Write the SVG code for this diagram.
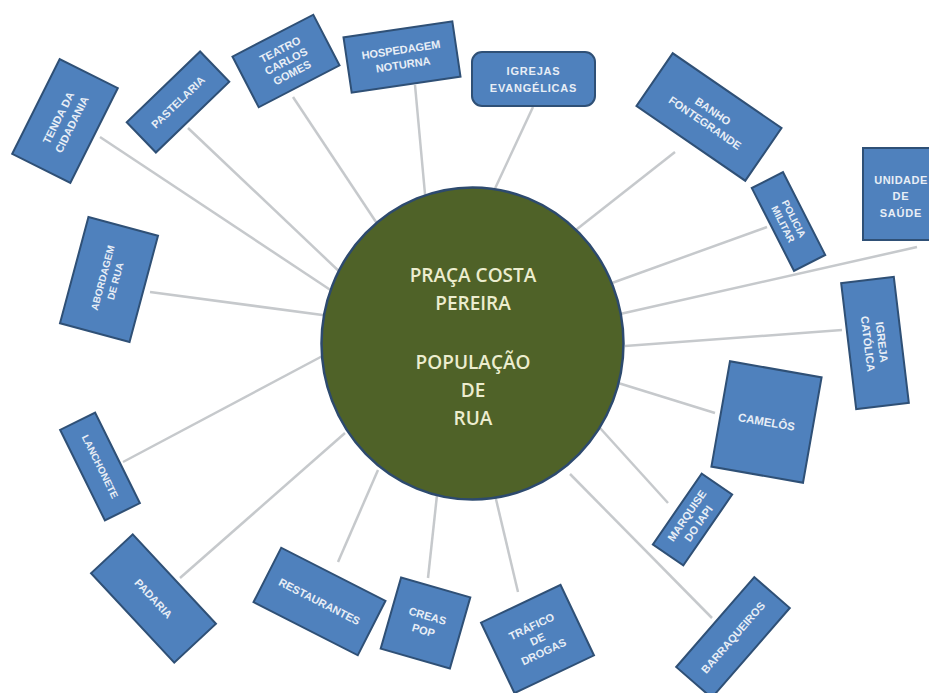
<svg xmlns="http://www.w3.org/2000/svg" width="929" height="693" viewBox="0 0 929 693">
<style>
.box{fill:#4f81bd;stroke:#2f5076;stroke-width:2}
.t{font-family:"Liberation Sans",Arial,sans-serif;font-size:11px;font-weight:bold;fill:#e8eef6;text-anchor:middle;dominant-baseline:central}
.s{font-size:10px}
.c{font-family:"Open Sans","Liberation Sans",sans-serif;font-size:19px;font-weight:600;fill:#ecedcf;text-anchor:middle}
#connectors line{stroke:#c6c9cc;stroke-width:2.5}
</style>
<rect width="929" height="693" fill="#ffffff"/>
<g id="connectors">
<line x1="100" y1="137" x2="335" y2="293"/>
<line x1="188" y1="128" x2="343" y2="275"/>
<line x1="293" y1="97" x2="380" y2="228"/>
<line x1="415" y1="85" x2="426" y2="205"/>
<line x1="533" y1="107" x2="492" y2="195"/>
<line x1="675" y1="152" x2="572" y2="233"/>
<line x1="767" y1="227" x2="612" y2="283"/>
<line x1="917" y1="247" x2="620" y2="314"/>
<line x1="842" y1="330" x2="625" y2="346"/>
<line x1="715" y1="413" x2="615" y2="382"/>
<line x1="668" y1="503" x2="600" y2="428"/>
<line x1="712" y1="618" x2="570" y2="474"/>
<line x1="518" y1="592" x2="495" y2="495"/>
<line x1="428" y1="578" x2="437" y2="495"/>
<line x1="338" y1="562" x2="378" y2="470"/>
<line x1="180" y1="578" x2="345" y2="433"/>
<line x1="123" y1="462" x2="330" y2="352"/>
<line x1="150" y1="292" x2="330" y2="316"/>
</g>
<g id="center">
<ellipse cx="472.5" cy="343.5" rx="151" ry="156" fill="#4f6228" stroke="#2d4a6e" stroke-width="2.5"/>
<text class="c" x="473" y="282">PRAÇA COSTA</text>
<text class="c" x="473" y="310">PEREIRA</text>
<text class="c" x="473" y="369">POPULAÇÃO</text>
<text class="c" x="473" y="397">DE</text>
<text class="c" x="473" y="425">RUA</text>
</g>
<g id="tenda" transform="translate(65,121) rotate(-63.4)">
<rect class="box" x="-53" y="-32.5" width="106" height="65"/>
<text class="t" y="-7.5">TENDA DA</text><text class="t" y="7.5">CIDADANIA</text>
</g>
<g id="pastelaria" transform="translate(178,102) rotate(-44)">
<rect class="box" x="-51" y="-21" width="102" height="42"/>
<text class="t">PASTELARIA</text>
</g>
<g id="teatro" transform="translate(286,61) rotate(-27.4)">
<rect class="box" x="-45.5" y="-28.5" width="91" height="57"/>
<text class="t" y="-13">TEATRO</text><text class="t" y="0">CARLOS</text><text class="t" y="13">GOMES</text>
</g>
<g id="hospedagem" transform="translate(402,57) rotate(-8.4)">
<rect class="box" x="-55" y="-28" width="110" height="56"/>
<text class="t" y="-7.5">HOSPEDAGEM</text><text class="t" y="7.5">NOTURNA</text>
</g>
<g id="igrejas">
<rect class="box" x="472" y="52" width="123" height="54" rx="10"/>
<text class="t" x="533.5" y="71" letter-spacing="0.8">IGREJAS</text><text class="t" x="533.5" y="88" letter-spacing="0.8">EVANGÉLICAS</text>
</g>
<g id="banho" transform="translate(709,117) rotate(34.5)">
<rect class="box" x="-66" y="-32" width="132" height="64"/>
<text class="t" y="-7">BANHO</text><text class="t" y="7">FONTEGRANDE</text>
</g>
<g id="policia" transform="translate(788.5,221.5) rotate(63)">
<rect class="box" x="-46.5" y="-17.5" width="93" height="35"/>
<text class="t s" y="-6">POLICIA</text><text class="t s" y="6">MILITAR</text>
</g>
<g id="unidade">
<rect class="box" x="863" y="148" width="84" height="92"/>
<text class="t" x="901" y="180" letter-spacing="0.5">UNIDADE</text><text class="t" x="901" y="196" letter-spacing="0.8">DE</text><text class="t" x="901" y="213" letter-spacing="0.8">SAÚDE</text>
</g>
<g id="igreja-catolica" transform="translate(875,343) rotate(83.2)">
<rect class="box" x="-63.5" y="-26.5" width="127" height="53"/>
<text class="t" y="-7">IGREJA</text><text class="t" y="7">CATÓLICA</text>
</g>
<g id="camelos" transform="translate(766.5,422) rotate(10)">
<rect class="box" x="-46.5" y="-53.5" width="93" height="107"/>
<text class="t" style="font-size:11.5px">CAMELÔS</text>
</g>
<g id="marquise" transform="translate(692.5,519.5) rotate(-55.4)">
<rect class="box" x="-43" y="-18.5" width="86" height="37"/>
<text class="t" y="-7">MARQUISE</text><text class="t" y="7">DO IAPI</text>
</g>
<g id="barraqueiros" transform="translate(733,637.5) rotate(-49)">
<rect class="box" x="-59.5" y="-23.5" width="119" height="47"/>
<text class="t">BARRAQUEIROS</text>
</g>
<g id="trafico" transform="translate(537.5,639) rotate(-25.4)">
<rect class="box" x="-44" y="-39" width="88" height="78"/>
<text class="t" y="-14">TRÁFICO</text><text class="t" y="0">DE</text><text class="t" y="14">DROGAS</text>
</g>
<g id="creas" transform="translate(425.5,623) rotate(16)">
<rect class="box" x="-36" y="-37" width="72" height="74"/>
<text class="t" y="-7.5">CREAS</text><text class="t" y="7.5">POP</text>
</g>
<g id="restaurantes" transform="translate(319.5,601.5) rotate(27)">
<rect class="box" x="-58.5" y="-30.5" width="117" height="61"/>
<text class="t">RESTAURANTES</text>
</g>
<g id="padaria" transform="translate(153.5,598.5) rotate(47)">
<rect class="box" x="-61" y="-28.5" width="122" height="57"/>
<text class="t">PADARIA</text>
</g>
<g id="lanchonete" transform="translate(100,466.5) rotate(63.7)">
<rect class="box" x="-50.5" y="-19.5" width="101" height="39"/>
<text class="t s">LANCHONETE</text>
</g>
<g id="abordagem" transform="translate(109,279.5) rotate(-75)">
<rect class="box" x="-55" y="-36" width="110" height="72"/>
<text class="t s" y="-6.5">ABORDAGEM</text><text class="t s" y="6.5">DE RUA</text>
</g>
</svg>
